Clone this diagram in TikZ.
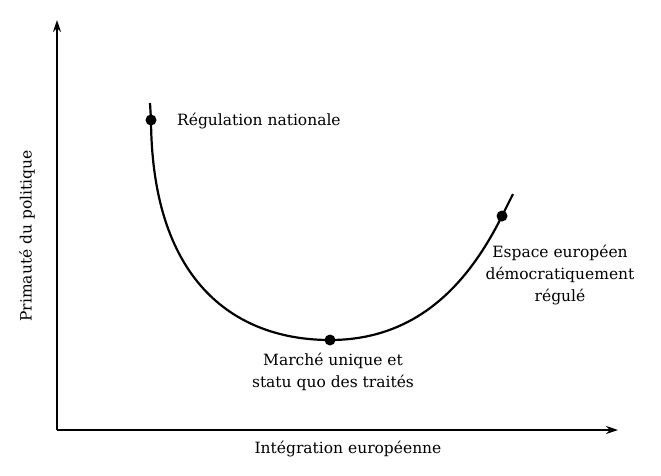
\documentclass[tikz,border=0pt]{standalone}
\usepackage{fontspec}
\setmainfont{DejaVu Serif}
\usetikzlibrary{positioning,arrows.meta}

\begin{document}
\begin{tikzpicture}[x=1pt,y=-1pt,>={Stealth[length=12pt,width=8pt]},
		every node/.style={font=\fontsize{15.5}{22}\selectfont},
		dot/.style={circle,fill,inner sep=0pt,minimum size=11pt},
		lbl/.style={align=center,inner sep=1pt}]
		\useasboundingbox (0,0) rectangle (661,475);
		% create the nodes
		\coordinate (origin) at (57,430);
		\coordinate (ytop) at (57,20);
		\coordinate (xend) at (618,430);
		\coordinate (start) at (150,103);
		\coordinate (stop) at (513,194);
		\node[dot] (national) at (151,120) {};
		\node[dot] (marche) at (330,340) {};
		\node[dot] (espace) at (502,216) {};
		\node[lbl,anchor=west] (nationallbl) at (176,121) {Régulation nationale};
		\node[lbl] (marchelbl) at (333,372) {Marché unique et\\statu quo des traités};
		\node[lbl] (espacelbl) at (560,275) {Espace européen\\démocratiquement\\régulé};
		\node[lbl,rotate=90] (ylbl) at (27,236) {Primauté du politique};
		\node[lbl] (xlbl) at (348,449) {Intégration européenne};

		% connect the nodes
		\draw[->,line width=2pt] (origin) -- (ytop);
		\draw[->,line width=2pt] (origin) -- (xend);
		\draw[line width=2.2pt] (start) -- (national.center)
		.. controls (152,285) and (238,340) .. (marche.center)
		.. controls (420,340) and (470,280) .. (espace.center) -- (stop);

	\end{tikzpicture}
\end{document}
